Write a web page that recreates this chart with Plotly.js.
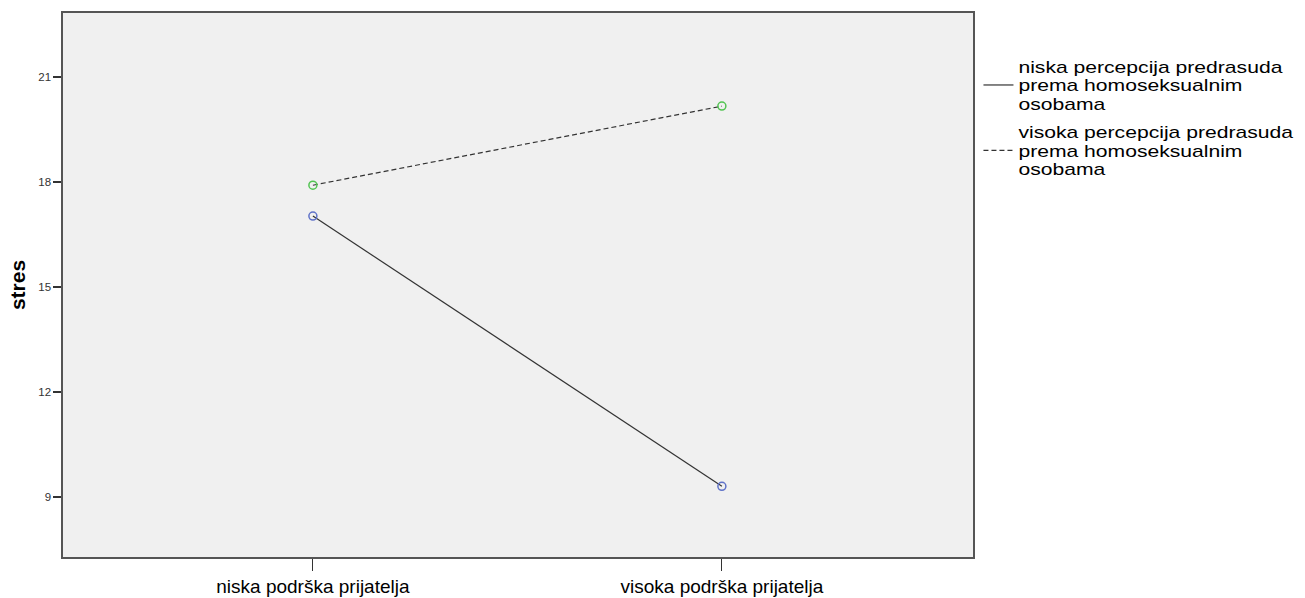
<!DOCTYPE html>
<html>
<head>
<meta charset="utf-8">
<script src="https://cdn.plot.ly/plotly-3.0.1.min.js"></script>
<style>
body{margin:0;background:#fff}
#chart{width:1305px;height:598px}
#chart .legendtext{transform-box:fill-box;transform-origin:0% 50%;transform:scaleX(1.32)}
</style>
</head>
<body>
<div id="chart"></div>
<script>
var categories = ["niska podrška prijatelja", "visoka podrška prijatelja"];
var seriesNames = ["niska percepcija predrasuda<br>prema homoseksualnim<br>osobama", "visoka percepcija predrasuda<br>prema homoseksualnim<br>osobama"];
var niskaPercepcija = [17.03, 9.31];
var visokaPercepcija = [17.91, 20.17];
var yTicks = [9, 12, 15, 18, 21];

var traces = [
  {x: categories, y: niskaPercepcija, name: seriesNames[0], type: "scatter", mode: "lines",
   line: {color: "#333333", width: 1.2}, showlegend: true},
  {x: categories, y: visokaPercepcija, name: seriesNames[1], type: "scatter", mode: "lines",
   line: {color: "#333333", width: 1.2, dash: "5px,3px"}, showlegend: true},
  {x: categories, y: niskaPercepcija, type: "scatter", mode: "markers", showlegend: false,
   marker: {symbol: "circle-open", size: 8, color: "#5f72c8", line: {width: 1.5}}},
  {x: categories, y: visokaPercepcija, type: "scatter", mode: "markers", showlegend: false,
   marker: {symbol: "circle-open", size: 8, color: "#52c452", line: {width: 1.5}}}
];

var layout = {
  width: 1305, height: 598,
  margin: {l: 63, r: 332, t: 13, b: 41},
  paper_bgcolor: "#ffffff",
  plot_bgcolor: "#f0f0f0",
  font: {family: "Arial, Liberation Sans, sans-serif", color: "#000"},
  xaxis: {
    type: "category", range: [-0.611, 1.614],
    showgrid: false, zeroline: false,
    showline: true, linecolor: "#555", linewidth: 1.6, mirror: true,
    ticks: "outside", ticklen: 12, tickcolor: "#333", tickwidth: 1,
    tickfont: {size: 19, family: "Arial, Liberation Sans, sans-serif", color: "#000"}
  },
  yaxis: {
    range: [7.29, 22.83], tickvals: yTicks, ticktext: yTicks.map(String),
    showgrid: false, zeroline: false,
    showline: true, linecolor: "#555", linewidth: 1.6, mirror: true,
    ticks: "outside", ticklen: 8, tickcolor: "#333", tickwidth: 1.5,
    tickfont: {size: 11.5, color: "#333"},
    title: {text: "<b>stres</b>", font: {size: 21, color: "#000"}, standoff: 7}
  },
  legend: {
    x: 1.006, xanchor: "left", y: 0.937, yanchor: "top",
    font: {size: 16, color: "#000"},
    bgcolor: "rgba(0,0,0,0)", tracegroupgap: 0,
    itemwidth: 30
  },
  showlegend: true
};

Plotly.newPlot("chart", traces, layout, {displayModeBar: false, staticPlot: true}).then(function () {
  // legend labels are drawn wider by CSS, so do not clip them to the measured box
  document.querySelectorAll("#chart .legend [clip-path]").forEach(function (e) {
    e.removeAttribute("clip-path");
  });
  // tighter line spacing inside the multi-line legend labels
  document.querySelectorAll("#chart .legendtext").forEach(function (t) {
    var shift = 2.4;
    var y = parseFloat(t.getAttribute("y"));
    t.setAttribute("y", y + shift);
    t.querySelectorAll("tspan.line").forEach(function (ts, i) {
      var ty = parseFloat(ts.getAttribute("y"));
      if (!isNaN(ty)) ts.setAttribute("y", ty + shift);
      ts.setAttribute("dy", (i * 1.15) + "em");
    });
  });
});
</script>
</body>
</html>
